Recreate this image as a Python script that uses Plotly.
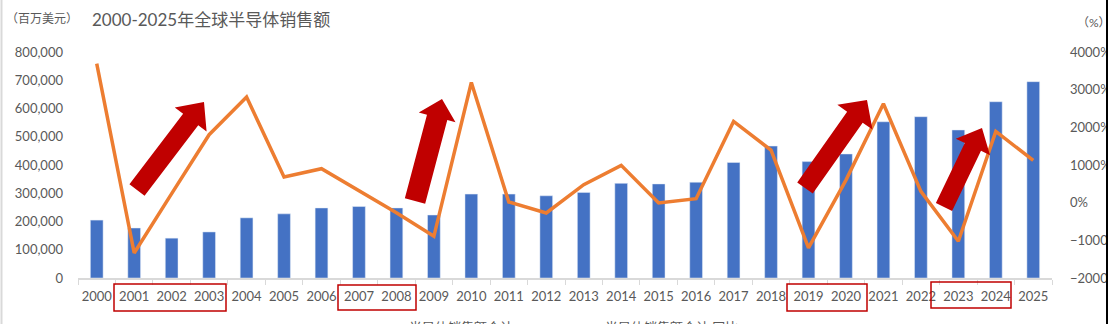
import plotly.graph_objects as go
import math

years = [str(y) for y in range(2000, 2026)]
sales = [205000, 177000, 141000, 163000, 213000, 227000, 248000, 253000, 248000, 223000,
         297000, 297000, 291000, 303000, 335000, 333000, 339000, 409000, 467000, 412000,
         439000, 553000, 571000, 524000, 624000, 695000]
growth = [3690, -1335, 240, 1804, 2803, 681, 902, 318, -265, -893,
          3191, 18, -274, 477, 990, -9, 106, 2157, 1395, -1202,
          600, 2626, 300, -1026, 1891, 1122]

title_text = "2000-2025年全球半导体销售额"
left_unit = "（百万美元）"
right_unit = "（%）"
legend_names = ["半导体销售额合计", "半导体销售额合计 同比"]

W, H = 1108, 324
L, R, T, B = 78, 56, 52, 46
PW, PH = W - L - R, H - T - B

def px(x):
    return (x - L) / PW

def py(y):
    return (H - B - y) / PH

GRAY = "#595959"
FONT = "Lato, Noto Sans CJK SC, sans-serif"

fig = go.Figure()
fig.add_trace(go.Bar(x=years, y=sales, name=legend_names[0], marker_color="#4472C4",
                     width=0.34, yaxis="y"))
fig.add_trace(go.Scatter(x=years, y=growth, name=legend_names[1], mode="lines",
                         line=dict(color="#ED7D31", width=3.5), yaxis="y2"))

def arrow(tail, tip, bw, hw, hl):
    dx, dy = tip[0] - tail[0], tip[1] - tail[1]
    n = math.hypot(dx, dy)
    ux, uy = dx / n, dy / n
    nx, ny = -uy, ux
    bx, by = tip[0] - hl * ux, tip[1] - hl * uy
    pts = [
        (tail[0] + nx * bw / 2, tail[1] + ny * bw / 2),
        (bx + nx * bw / 2, by + ny * bw / 2),
        (bx + nx * hw / 2, by + ny * hw / 2),
        tip,
        (bx - nx * hw / 2, by - ny * hw / 2),
        (bx - nx * bw / 2, by - ny * bw / 2),
        (tail[0] - nx * bw / 2, tail[1] - ny * bw / 2),
    ]
    path = "M " + " L ".join(f"{px(x):.5f},{py(y):.5f}" for x, y in pts) + " Z"
    return dict(type="path", xref="paper", yref="paper", path=path,
                fillcolor="#C00000", line=dict(width=0), layer="above")

shapes = [
    arrow((137, 190), (204, 102), 19, 40, 22),
    arrow((415, 201), (442, 99), 21, 38, 19),
    arrow((805, 188), (867, 100), 19, 43, 21),
    arrow((944, 207), (982, 128), 18, 38, 21),
]

boxes = [(114, 284, 226, 311), (338, 285, 416, 310), (787, 284, 867, 311), (931, 282, 1011, 308)]
for x0, y0, x1, y1 in boxes:
    shapes.append(dict(type="rect", xref="paper", yref="paper",
                       x0=px(x0), x1=px(x1), y0=py(y1), y1=py(y0),
                       line=dict(color="#C00000", width=1.5), fillcolor="rgba(0,0,0,0)",
                       layer="above"))

# frame lines
shapes.append(dict(type="line", xref="paper", yref="paper", x0=px(1.5), x1=px(1.5),
                   y0=py(324), y1=py(0), line=dict(color="#D9D9D9", width=2)))
shapes.append(dict(type="line", xref="paper", yref="paper", x0=px(1107), x1=px(1107),
                   y0=py(324), y1=py(0), line=dict(color="#000000", width=2)))

annotations = [
    dict(text=title_text, xref="paper", yref="paper", x=px(90), y=py(19),
         xanchor="left", yanchor="middle", showarrow=False,
         font=dict(size=17, color=GRAY, family=FONT)),
    dict(text=left_unit, xref="paper", yref="paper", x=px(4), y=py(18),
         xanchor="left", yanchor="middle", showarrow=False,
         font=dict(size=12, color=GRAY, family=FONT)),
    dict(text=right_unit, xref="paper", yref="paper", x=px(1075), y=py(23),
         xanchor="left", yanchor="middle", showarrow=False,
         font=dict(size=12, color=GRAY, family=FONT)),
    dict(text=legend_names[0], xref="paper", yref="paper", x=px(407), y=py(327),
         xanchor="left", yanchor="middle", showarrow=False,
         font=dict(size=13, color=GRAY, family=FONT)),
    dict(text=legend_names[1], xref="paper", yref="paper", x=px(603), y=py(327),
         xanchor="left", yanchor="middle", showarrow=False,
         font=dict(size=13, color=GRAY, family=FONT)),
]

fig.update_layout(
    width=W, height=H,
    margin=dict(l=L, r=R, t=T, b=B, pad=0, autoexpand=False),
    paper_bgcolor="white", plot_bgcolor="white",
    showlegend=False,
    font=dict(family=FONT, color=GRAY, size=13),
    xaxis=dict(type="category", showgrid=False, showline=True, linecolor="#D9D9D9",
               linewidth=1.5, ticks="outside", tickson="boundaries", ticklen=5,
               tickcolor="#D9D9D9", tickangle=0, automargin=False, ticklabelstandoff=6,
               tickfont=dict(size=13, color=GRAY), zeroline=False),
    yaxis=dict(range=[0, 800000], dtick=100000, tickformat=",", showgrid=False,
               zeroline=False, showline=False, ticks="", ticklabelstandoff=14,
               automargin=False, tickfont=dict(size=13, color=GRAY)),
    yaxis2=dict(range=[-2000, 4000], dtick=1000, ticksuffix="%", overlaying="y",
                side="right", showgrid=False, zeroline=False, showline=False, ticks="",
                ticklabelstandoff=17, automargin=False, tickfont=dict(size=13, color=GRAY)),
    shapes=shapes, annotations=annotations,
)

fig.write_html("out.html")
